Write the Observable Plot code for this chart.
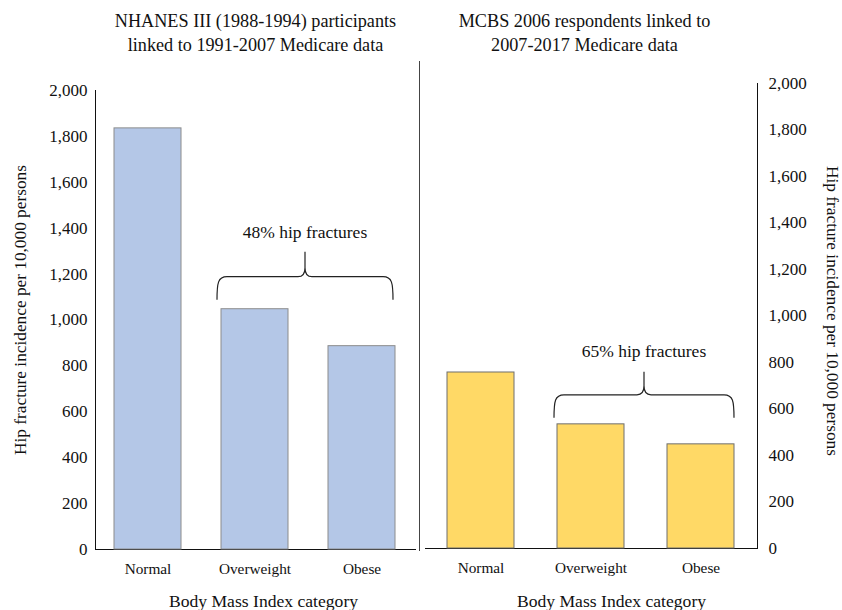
<!DOCTYPE html>
<html>
<head>
<meta charset="utf-8">
<script src="https://cdn.jsdelivr.net/npm/d3@7"></script>
<script src="https://cdn.jsdelivr.net/npm/@observablehq/plot@0.6"></script>
<style>
  html, body { margin: 0; padding: 0; background: #fff; }
  #wrap { position: relative; width: 842px; height: 610px; font-family: "Liberation Serif", "Times New Roman", serif; }
  #wrap svg { position: absolute; top: 0; overflow: visible; }
  #left { left: 0; }
  #right { left: 420px; }
  #sep { position: absolute; left: 419px; top: 61px; width: 1px; height: 490px; background: #444; }
  [aria-label^="x-axis"] text { font-size: 15.3px; }
</style>
</head>
<body>
<div id="wrap"><div id="sep"></div></div>
<script>
// ---- data ----
const categories = ["Normal", "Overweight", "Obese"];
const nhanesValues = [1835, 1047, 886];
const mcbsValues = [757, 534, 448];
const yTicks = [0, 200, 400, 600, 800, 1000, 1200, 1400, 1600, 1800, 2000];
const leftTitle = "NHANES III (1988-1994) participants\nlinked to 1991-2007 Medicare data";
const rightTitle = "MCBS 2006 respondents linked to\n2007-2017 Medicare data";
const yLabel = "Hip fracture incidence per 10,000 persons";
const xLabel = "Body Mass Index category";
const leftBraceLabel = "48% hip fractures";
const rightBraceLabel = "65% hip fractures";

const font = "'Liberation Serif', 'Times New Roman', serif";

function braceMark(label, values, opts) {
  return (index, scales) => {
    const x = scales.x, y = scales.y;
    let bw = x && typeof x.bandwidth === "function" ? x.bandwidth() : x.bandwidth;
    if (!(bw > 0)) bw = (x(categories[2]) - x(categories[1])) * 0.62;
    const x0 = x(categories[1]) + opts.l;
    const x1 = x(categories[2]) + bw + opts.r;
    const xc = (x0 + x1) / 2;
    const yb = y(Math.max(values[1], values[2])) - opts.gap;
    const yh = yb - 23;
    const yt = yh - opts.stem;
    const d = [
      `M${x0},${yb}`,
      `C${x0},${yh + 6} ${x0 + 1},${yh} ${x0 + 10},${yh}`,
      `L${xc - 7},${yh}`,
      `C${xc - 2},${yh} ${xc},${yh - 3} ${xc},${yh - 9}`,
      `L${xc},${yt}`,
      `M${xc},${yh - 9}`,
      `C${xc},${yh - 3} ${xc + 2},${yh} ${xc + 7},${yh}`,
      `L${x1 - 10},${yh}`,
      `C${x1 - 1},${yh} ${x1},${yh + 6} ${x1},${yb}`
    ].join(" ");
    const g = d3.create("svg:g");
    g.append("path").attr("d", d).attr("fill", "none").attr("stroke", "#222").attr("stroke-width", 1.2);
    g.append("text").attr("x", xc).attr("y", yt - opts.txt).attr("dy", "0.32em")
      .attr("text-anchor", "middle").attr("font-size", 17.5).attr("fill", "#111").text(label);
    return g.node();
  };
}

const leftData = categories.map((c, i) => ({category: c, value: nhanesValues[i]}));
const rightData = categories.map((c, i) => ({category: c, value: mcbsValues[i]}));

const left = Plot.plot({
  width: 420,
  height: 610,
  marginLeft: 95,
  marginRight: 5,
  marginTop: 90,
  marginBottom: 61,
  style: {fontFamily: font, fontSize: "17px", background: "transparent", color: "#111"},
  x: {domain: categories, paddingInner: 0.37, paddingOuter: 0.18, label: null, tickSize: 0, tickPadding: 14, line: true},
  y: {domain: [0, 2000], ticks: yTicks, tickFormat: d3.format(","), tickSize: 0, tickPadding: 8, label: null, line: true},
  marks: [
    Plot.barY(leftData, {x: "category", y: "value", fill: "#b4c7e7", stroke: "#8c8c8c", strokeWidth: 1}),
    Plot.text([leftTitle], {frameAnchor: "top", lineAnchor: "top", dy: -80, lineHeight: 1.3, fontSize: 18.2, text: d => d}),
    Plot.text([yLabel], {frameAnchor: "left", textAnchor: "middle", dx: -75, dy: -10, rotate: -90, fontSize: 17.3, text: d => d}),
    Plot.text([xLabel], {frameAnchor: "bottom", lineAnchor: "bottom", dx: 8, dy: 57, fontSize: 17.6, text: d => d}),
    braceMark(leftBraceLabel, nhanesValues, {l: -4, r: -2, gap: 9, stem: 25, txt: 19})
  ]
});
left.id = "left";

const right = Plot.plot({
  width: 422,
  height: 610,
  marginLeft: 5,
  marginRight: 85,
  marginTop: 83,
  marginBottom: 62,
  style: {fontFamily: font, fontSize: "17px", background: "transparent", color: "#111"},
  x: {domain: categories, paddingInner: 0.387, paddingOuter: 0.19, label: null, tickSize: 0, tickPadding: 14, line: true},
  y: {domain: [0, 2000], ticks: yTicks, tickFormat: d3.format(","), tickSize: 0, tickPadding: 11, label: null, line: true, axis: "right"},
  marks: [
    Plot.barY(rightData, {x: "category", y: "value", fill: "#ffd966", stroke: "#6e6e6e", strokeWidth: 1}),
    Plot.text([rightTitle], {frameAnchor: "top", lineAnchor: "top", dx: -7, dy: -73, lineHeight: 1.3, fontSize: 18.2, text: d => d}),
    Plot.text([yLabel], {frameAnchor: "right", textAnchor: "middle", dx: 75, dy: -5, rotate: 90, fontSize: 17.3, text: d => d}),
    Plot.text([xLabel], {frameAnchor: "bottom", lineAnchor: "bottom", dx: 20, dy: 58, fontSize: 17.6, text: d => d}),
    braceMark(rightBraceLabel, mcbsValues, {l: -3, r: 0, gap: 6, stem: 23, txt: 20})
  ]
});
right.id = "right";

const wrap = document.getElementById("wrap");
wrap.appendChild(left);
wrap.appendChild(right);
</script>
</body>
</html>
